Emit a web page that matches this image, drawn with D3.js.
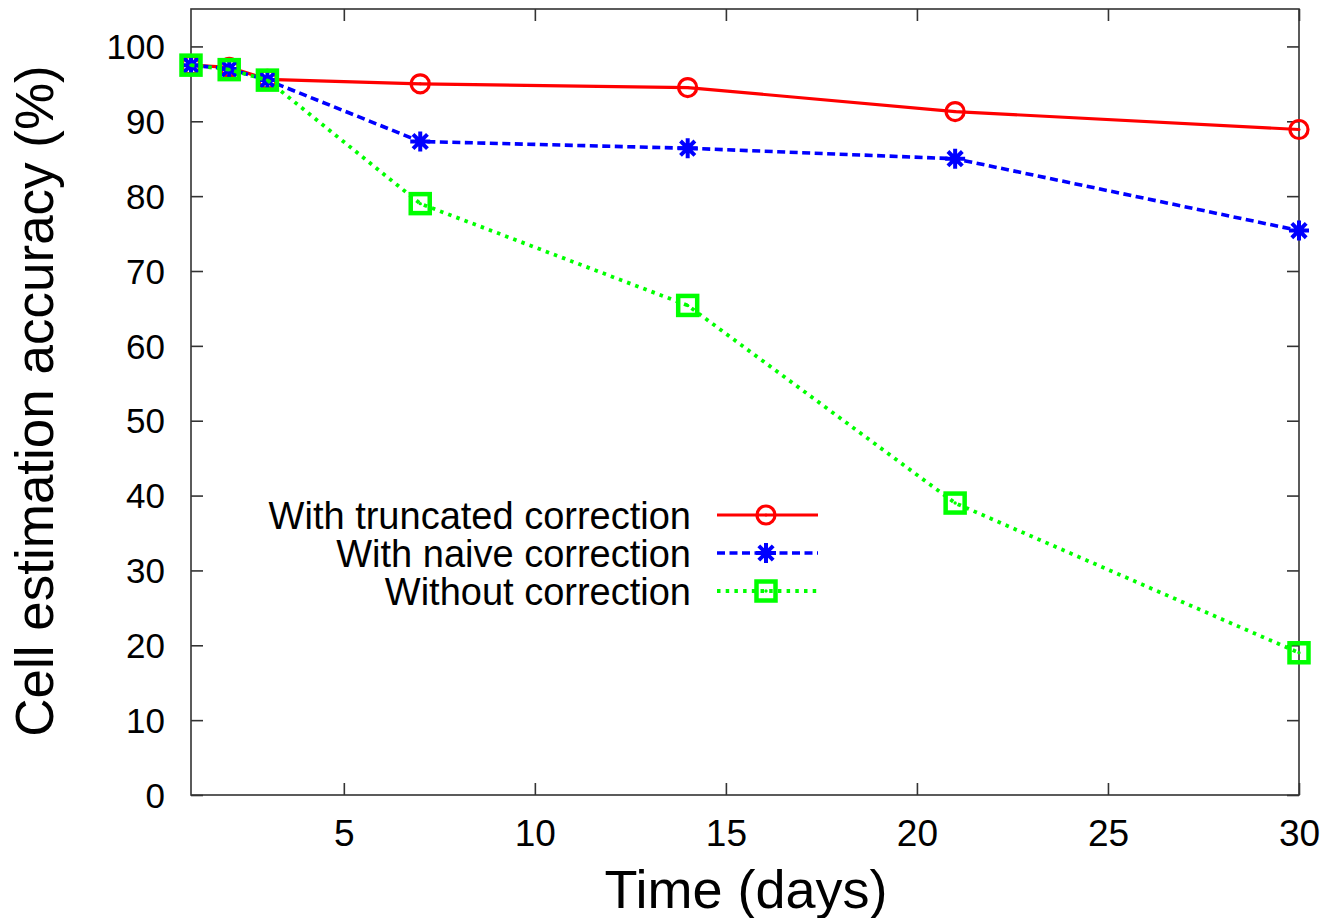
<!DOCTYPE html>
<html>
<head>
<meta charset="utf-8">
<script src="https://cdn.jsdelivr.net/npm/d3@7"></script>
<style>
  html, body { margin: 0; padding: 0; background: #fff; }
  svg { display: block; }
  text { font-family: "Liberation Sans", Arial, sans-serif; fill: #000; }
</style>
</head>
<body>
<svg id="chart" width="1329" height="918"></svg>
<script>
// ---- data ----
const days = [1, 2, 3, 7, 14, 21, 30];
const truncated = [97.5, 97.2, 95.6, 95.0, 94.5, 91.3, 88.9];
const naive = [97.5, 97.0, 95.5, 87.3, 86.4, 85.0, 75.4];
const without = [97.5, 96.9, 95.5, 79.0, 65.4, 39.0, 19.0];
const seriesNames = ["With truncated correction", "With naive correction", "Without correction"];
const xTicks = [5, 10, 15, 20, 25, 30];
const yTicks = [0, 10, 20, 30, 40, 50, 60, 70, 80, 90, 100];
const xTitle = "Time (days)";
const yTitle = "Cell estimation accuracy (%)";

// ---- layout ----
const svg = d3.select("#chart");
const L = 191, R = 1299, T = 9, B = 795;
const x = d3.scaleLinear().domain([1, 30]).range([L, R]);
const y = d3.scaleLinear().domain([0, 105]).range([B, T]);

const axisColor = "#333";
const tickLen = 12;

// frame
svg.append("rect").attr("x", L).attr("y", T).attr("width", R - L).attr("height", B - T)
  .attr("fill", "none").attr("stroke", axisColor).attr("stroke-width", 1.6);

// axes via d3
const xAxisB = d3.axisBottom(x).tickValues(xTicks).tickSizeInner(-tickLen).tickSizeOuter(0).tickPadding(16);
const gxb = svg.append("g").attr("transform", `translate(0,${B})`).call(xAxisB);
const xAxisT = d3.axisTop(x).tickValues(xTicks).tickSizeInner(-tickLen).tickSizeOuter(0).tickFormat("");
const gxt = svg.append("g").attr("transform", `translate(0,${T})`).call(xAxisT);
const yAxisL = d3.axisLeft(y).tickValues(yTicks).tickSizeInner(-tickLen).tickSizeOuter(0).tickPadding(26);
const gyl = svg.append("g").attr("transform", `translate(${L},0)`).call(yAxisL);
const yAxisR = d3.axisRight(y).tickValues(yTicks).tickSizeInner(-tickLen).tickSizeOuter(0).tickFormat("");
const gyr = svg.append("g").attr("transform", `translate(${R},0)`).call(yAxisR);

[gxb, gxt, gyl, gyr].forEach(g => {
  g.select(".domain").remove();
  g.selectAll(".tick line").attr("stroke", axisColor).attr("stroke-width", 1.6);
});
gxb.selectAll(".tick text").attr("font-size", 37).attr("fill", "#000")
  .attr("y", 51).attr("dy", "0");
gyl.selectAll(".tick text").attr("font-size", 35).attr("fill", "#000").attr("dy", "0.35em");

// titles
svg.append("text").attr("x", 746).attr("y", 908).attr("text-anchor", "middle")
  .attr("font-size", 54).text(xTitle);
svg.append("text").attr("transform", `translate(53,401) rotate(-90)`).attr("text-anchor", "middle")
  .attr("font-size", 53).text(yTitle);

// series
const styles = [
  { values: truncated, color: "#ff0000", dash: null, width: 3.2, marker: "circle" },
  { values: naive, color: "#0000ff", dash: "8,4.5", width: 3.6, marker: "star" },
  { values: without, color: "#00ff00", dash: "3.5,5.2", width: 3.8, marker: "square" }
];

const line = d3.line().x(d => x(d[0])).y(d => y(d[1]));

function drawMarker(g, type, cx, cy, color) {
  if (type === "circle") {
    g.append("circle").attr("cx", cx).attr("cy", cy).attr("r", 9)
      .attr("fill", "none").attr("stroke", color).attr("stroke-width", 3.2);
    g.append("circle").attr("cx", cx).attr("cy", cy).attr("r", 1.5).attr("fill", color);
  } else if (type === "star") {
    const s = 10, d = 7.2;
    g.append("path")
      .attr("d", `M${cx - s},${cy}L${cx + s},${cy}M${cx},${cy - s}L${cx},${cy + s}` +
                 `M${cx - d},${cy - d}L${cx + d},${cy + d}M${cx - d},${cy + d}L${cx + d},${cy - d}`)
      .attr("stroke", color).attr("stroke-width", 4).attr("fill", "none");
  } else if (type === "square") {
    const h = 9.5;
    g.append("rect").attr("x", cx - h).attr("y", cy - h).attr("width", 2 * h).attr("height", 2 * h)
      .attr("fill", "none").attr("stroke", color).attr("stroke-width", 4.5);
    g.append("circle").attr("cx", cx).attr("cy", cy).attr("r", 1.7).attr("fill", color);
  }
}

styles.forEach(st => {
  const pts = days.map((d, i) => [d, st.values[i]]);
  const g = svg.append("g");
  g.append("path").datum(pts).attr("d", line).attr("fill", "none")
    .attr("stroke", st.color).attr("stroke-width", st.width)
    .attr("stroke-dasharray", st.dash);
  pts.forEach(p => drawMarker(g, st.marker, x(p[0]), y(p[1]), st.color));
});

// legend
const legY = [515, 553, 591];
styles.forEach((st, i) => {
  const g = svg.append("g");
  g.append("text").attr("x", 691).attr("y", legY[i]).attr("dy", "0.36em")
    .attr("text-anchor", "end").attr("font-size", 38).text(seriesNames[i]);
  g.append("line").attr("x1", 717).attr("x2", 818).attr("y1", legY[i]).attr("y2", legY[i])
    .attr("stroke", st.color).attr("stroke-width", st.width).attr("stroke-dasharray", st.dash);
  drawMarker(g, st.marker, 766, legY[i], st.color);
});
</script>
</body>
</html>
